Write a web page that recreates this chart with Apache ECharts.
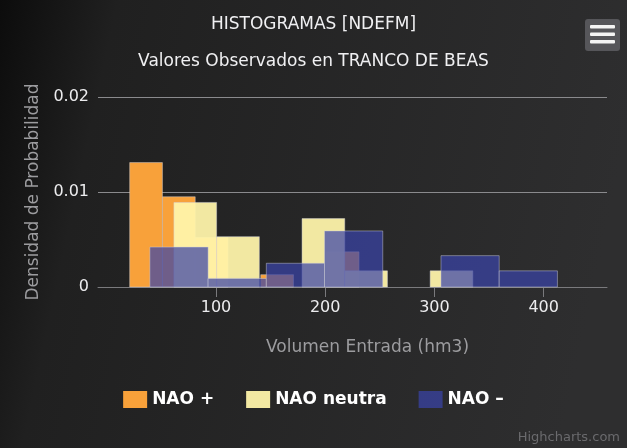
<!DOCTYPE html>
<html>
<head>
<meta charset="utf-8">
<title>Histogramas NDEFM</title>
<script src="https://cdn.jsdelivr.net/npm/echarts@6/dist/echarts.min.js"></script>
<style>
  html, body { margin: 0; padding: 0; background: #1c1c1c; }
  #chart { width: 627px; height: 448px; }
</style>
</head>
<body>
<div id="chart"></div>
<script>
// datos: limites de clase (hm3) y densidad de cada clase
var seriesNames = ["NAO +", "NAO neutra", "NAO \u2013"];
var naoPosEdges = [21, 51, 81, 111, 141, 171, 201, 231];
var naoPosDensity = [0.0131, 0.0095, 0.0052, 0, 0.0013, 0, 0.0037];
var naoNeuEdges = [61.5, 100.6, 139.7, 178.8, 217.9, 257, 296.1, 335.2];
var naoNeuDensity = [0.0089, 0.0053, 0, 0.0072, 0.0017, 0, 0.0017];
var naoNegEdges = [39.5, 92.8, 146.1, 199.4, 252.7, 306, 359.3, 412.6];
var naoNegDensity = [0.0042, 0.0009, 0.0025, 0.0059, 0, 0.0033, 0.0017];
var xTicks = [100, 200, 300, 400];

(function() {
  var myChart = echarts.init(document.getElementById("chart"));
  var font = "DejaVu Sans";

  // pasa limites + densidades a filas [desde, hasta, densidad]
  function toBins(edges, dens) {
    var out = [];
    for (var i = 0; i < dens.length; i++) {
      out.push([edges[i], edges[i + 1], dens[i]]);
    }
    return out;
  }

  function renderBin(params, api) {
    if (!api.value(2)) return null;
    var top = api.coord([api.value(0), api.value(2)]);
    var bottom = api.coord([api.value(1), 0]);
    return {
      type: "rect",
      shape: { x: top[0], y: top[1], width: bottom[0] - top[0], height: bottom[1] - top[1] },
      style: {
        fill: api.visual("color"),
        stroke: "rgba(210,210,220,0.45)",
        lineWidth: 1
      }
    };
  }

  function histSeries(name, edges, dens, color) {
    return {
      name: name,
      type: "custom",
      renderItem: renderBin,
      itemStyle: { color: color },
      encode: { x: [0, 1], y: 2 },
      data: toBins(edges, dens)
    };
  }

  var option = {
    backgroundColor: new echarts.graphic.LinearGradient(0, 0, 1, 0.3, [
      { offset: 0, color: "#0c0c0c" },
      { offset: 0.18, color: "#202020" },
      { offset: 1, color: "#2e2e2f" }
    ]),
    animation: false,
    title: [
      {
        text: "HISTOGRAMAS [NDEFM]",
        left: "center",
        top: 11,
        textStyle: { color: "#f0f0f2", fontFamily: font, fontSize: 17, fontWeight: "normal" }
      },
      {
        text: "Valores Observados en TRANCO DE BEAS",
        left: "center",
        top: 48,
        textStyle: { color: "#f0f0f2", fontFamily: font, fontSize: 17, fontWeight: "normal" }
      }
    ],
    legend: {
      data: seriesNames,
      top: 386,
      left: "center",
      icon: "rect",
      itemWidth: 24,
      itemHeight: 17,
      itemGap: 32,
      textStyle: { color: "#ffffff", fontFamily: font, fontSize: 17, fontWeight: "bold" }
    },
    grid: { left: 98, right: 20, top: 97, bottom: 161 },
    xAxis: {
      type: "value",
      min: -8,
      max: 458,
      name: "Volumen Entrada (hm3)",
      nameLocation: "middle",
      nameGap: 52,
      nameTextStyle: { color: "#9c9c9f", fontFamily: font, fontSize: 17, padding: [0, 0, 0, 30] },
      axisLine: { show: true, lineStyle: { color: "#7a7a7d", width: 1 } },
      axisTick: { show: true, customValues: xTicks, length: 10, lineStyle: { color: "#7a7a7d" } },
      axisLabel: {
        customValues: xTicks,
        color: "#ececee",
        fontFamily: font,
        fontSize: 16,
        margin: 13
      },
      splitLine: { show: false }
    },
    yAxis: {
      type: "value",
      min: 0,
      max: 0.02,
      interval: 0.01,
      name: "Densidad de Probabilidad",
      nameLocation: "middle",
      nameGap: 53,
      nameTextStyle: { color: "#9c9c9f", fontFamily: font, fontSize: 17 },
      axisLine: { show: false },
      axisTick: { show: false },
      axisLabel: { color: "#ececee", fontFamily: font, fontSize: 16, margin: 9 },
      splitLine: { lineStyle: { color: "#8a8a8d", width: 1 } }
    },
    graphic: [
      {
        type: "rect",
        shape: { x: 585, y: 19, width: 35, height: 32, r: 3 },
        style: { fill: "#56565a" }
      },
      { type: "rect", shape: { x: 590, y: 25, width: 25, height: 3.5, r: 1 }, style: { fill: "#f4f4f4" } },
      { type: "rect", shape: { x: 590, y: 32.5, width: 25, height: 3.5, r: 1 }, style: { fill: "#f4f4f4" } },
      { type: "rect", shape: { x: 590, y: 40, width: 25, height: 3.5, r: 1 }, style: { fill: "#f4f4f4" } },
      {
        type: "text",
        right: 7,
        bottom: 4,
        style: { text: "Highcharts.com", fill: "#6a6a6d", font: "13px DejaVu Sans" }
      }
    ],
    series: [
      histSeries(seriesNames[0], naoPosEdges, naoPosDensity, "rgba(248,161,58,1)"),
      histSeries(seriesNames[1], naoNeuEdges, naoNeuDensity, "rgba(255,244,170,0.94)"),
      histSeries(seriesNames[2], naoNegEdges, naoNegDensity, "rgba(58,68,168,0.72)")
    ]
  };

  myChart.setOption(option);
})();
</script>
</body>
</html>
